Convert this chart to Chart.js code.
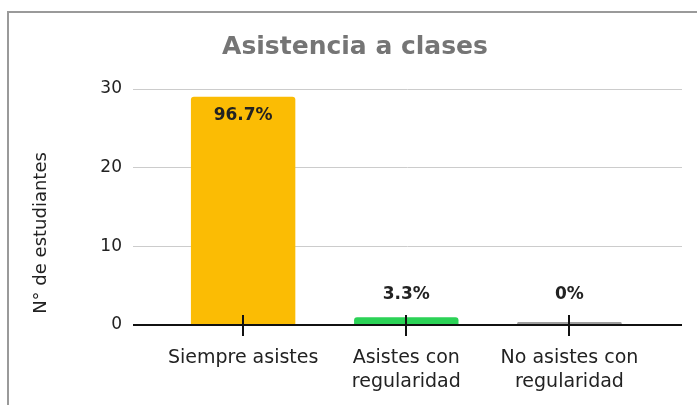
<!DOCTYPE html>
<html>
<head>
<meta charset="utf-8">
<script src="https://cdn.jsdelivr.net/npm/chart.js@4.4.1/dist/chart.umd.min.js"></script>
<style>
  html, body { margin: 0; padding: 0; background: #fff; }
  #wrap { position: relative; width: 697px; height: 405px; overflow: hidden; }
  #frame {
    position: absolute; left: 7px; top: 11px; width: 720px; height: 420px;
    border-left: 2px solid #9a9a9a; border-top: 2px solid #9a9a9a;
  }
  #myChart { position: absolute; left: 0; top: 0; }
</style>
</head>
<body>
<div id="wrap">
  <div id="frame"></div>
  <canvas id="myChart" width="697" height="405"></canvas>
</div>
<script>
// datos
const categorias = [
  ['Siempre asistes'],
  ['Asistes con', 'regularidad'],
  ['No asistes con', 'regularidad'],
];
const estudiantes = [29, 1, 0];
const colores = ['#FBBC04', '#2BD256', '#9E9E9E'];
const yTicks = [0, 10, 20, 30];

const total = estudiantes.reduce((a, b) => a + b, 0);
const porcentajes = estudiantes.map(v => Math.round((v / total) * 1000) / 10 + '%');

const FONT = "'DejaVu Sans', sans-serif";
const TEXT = '#222';

const extras = {
  id: 'extras',
  afterDatasetsDraw(chart) {
    const ctx = chart.ctx;
    const xs = chart.scales.x;
    const ys = chart.scales.y;
    const area = chart.chartArea;
    const y0 = ys.getPixelForValue(0);
    ctx.save();
    // eje x
    ctx.strokeStyle = '#111';
    ctx.lineWidth = 2;
    ctx.beginPath();
    ctx.moveTo(area.left, y0);
    ctx.lineTo(area.right, y0);
    ctx.stroke();
    // marcas
    estudiantes.forEach((v, i) => {
      const px = Math.round(xs.getPixelForValue(i));
      ctx.beginPath();
      ctx.moveTo(px, y0 - 10);
      ctx.lineTo(px, y0 + 11);
      ctx.stroke();
    });
    // etiquetas de porcentaje
    ctx.fillStyle = TEXT;
    ctx.font = 'bold 17px ' + FONT;
    ctx.textAlign = 'center';
    ctx.textBaseline = 'middle';
    chart.getDatasetMeta(0).data.forEach((bar, i) => {
      const h = y0 - bar.y;
      const ty = h > 40 ? bar.y + 19 : y0 - 30;
      ctx.fillText(porcentajes[i], bar.x, ty);
    });
    // titulo del eje y
    ctx.font = '18px ' + FONT;
    ctx.translate(41, 233);
    ctx.rotate(-Math.PI / 2);
    ctx.fillText('N° de estudiantes', 0, 0);
    ctx.restore();
  },
};

const ctx = document.getElementById('myChart').getContext('2d');
const myChart = new Chart(ctx, {
  type: 'bar',
  data: {
    datasets: [
      {
        data: estudiantes.map((v, i) => ({ x: i, y: v })),
        backgroundColor: colores,
        borderRadius: 3,
        borderSkipped: 'start',
        minBarLength: 3,
        categoryPercentage: 1,
        barPercentage: 0.64,
      },
    ],
  },
  options: {
    responsive: false,
    devicePixelRatio: 1,
    animation: false,
    layout: { padding: { left: 28, top: 12, right: 15, bottom: 0 } },
    plugins: {
      legend: { display: false },
      tooltip: { enabled: false },
      title: {
        display: true,
        text: 'Asistencia a clases',
        color: '#757575',
        font: { family: FONT, size: 25, weight: 'bold' },
        padding: { top: 20, bottom: 27 },
      },
    },
    scales: {
      x: {
        type: 'linear',
        offset: false,
        bounds: 'ticks',
        min: -0.675,
        max: 2.69,
        grid: { display: false },
        border: { display: false },
        afterBuildTicks: scale => {
          scale.ticks = categorias.map((c, i) => ({ value: i }));
        },
        afterFit: scale => {
          scale.height = 80;
        },
        ticks: {
          autoSkip: false,
          maxRotation: 0,
          padding: 13,
          color: TEXT,
          font: { family: FONT, size: 19, lineHeight: 1.26 },
          callback: value => categorias[value],
        },
      },
      y: {
        min: 0,
        max: 30,
        afterBuildTicks: scale => {
          scale.ticks = yTicks.map(v => ({ value: v }));
        },
        afterFit: scale => {
          scale.width = 105;
        },
        border: { display: false },
        grid: {
          drawTicks: false,
          color: c => (c.tick && c.tick.value === 0 ? 'rgba(0,0,0,0)' : '#cccccc'),
        },
        ticks: {
          padding: 11,
          color: TEXT,
          font: { family: FONT, size: 17 },
        },
      },
    },
  },
  plugins: [extras],
});
</script>
</body>
</html>
